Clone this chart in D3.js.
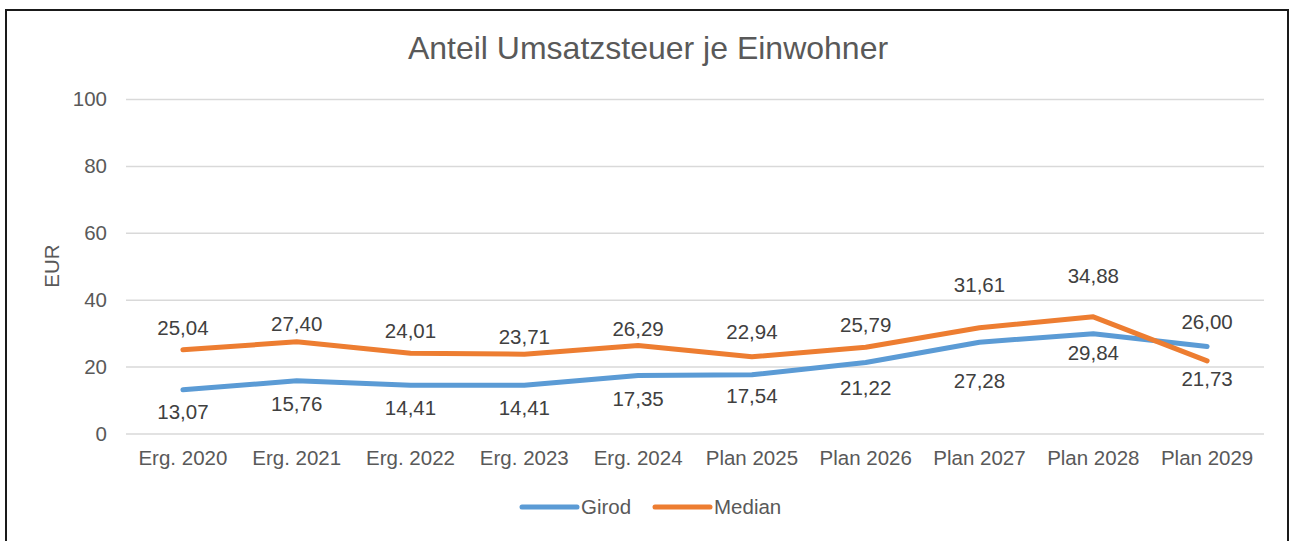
<!DOCTYPE html>
<html>
<head>
<meta charset="utf-8">
<script src="https://cdn.jsdelivr.net/npm/d3@7"></script>
<style>
  body { margin: 0; background: #fff; }
  svg { display: block; font-family: "Liberation Sans", Arial, sans-serif; }
</style>
</head>
<body>
<svg id="chart"></svg>
<script>
// data
const categories = ["Erg. 2020", "Erg. 2021", "Erg. 2022", "Erg. 2023", "Erg. 2024",
  "Plan 2025", "Plan 2026", "Plan 2027", "Plan 2028", "Plan 2029"];
const girod = [13.07, 15.76, 14.41, 14.41, 17.35, 17.54, 21.22, 27.28, 29.84, 26.00];
const median = [25.04, 27.40, 24.01, 23.71, 26.29, 22.94, 25.79, 31.61, 34.88, 21.73];
const yTicks = [0, 20, 40, 60, 80, 100];

// label placement (pixel offset of label centre from point)
const girodLabelDy = [22, 23, 23, 23, 23, 21, 25, 39, 19, -25];
const medianLabelDy = [-22, -18, -22, -17, -17, -25, -22, -43, -41, 18];

const series = [
  { name: "Girod", values: girod, color: "#5B9BD5", dy: girodLabelDy },
  { name: "Median", values: median, color: "#ED7D31", dy: medianLabelDy }
];

const W = 1292, H = 541;
const plot = { left: 126, right: 1264, top: 99, bottom: 433.5 };

const svg = d3.select("#chart").attr("width", W).attr("height", H);

// outer frame
svg.append("rect")
  .attr("x", 6).attr("y", 10)
  .attr("width", 1282).attr("height", 560)
  .attr("fill", "#fff")
  .attr("stroke", "#1a1a1a")
  .attr("stroke-width", 2);

const x = d3.scaleBand().domain(categories).range([plot.left, plot.right]);
const y = d3.scaleLinear().domain([0, 100]).range([plot.bottom, plot.top]);
const cx = d => x(d) + x.bandwidth() / 2;

// title
svg.append("text")
  .attr("x", 648).attr("y", 59)
  .attr("text-anchor", "middle")
  .attr("font-size", 32)
  .attr("fill", "#595959")
  .text("Anteil Umsatzsteuer je Einwohner");

// y axis + gridlines
const yAxisG = svg.append("g")
  .attr("transform", `translate(${plot.left},0)`)
  .call(d3.axisLeft(y).tickValues(yTicks).tickSize(-(plot.right - plot.left)).tickPadding(19));
yAxisG.select(".domain").remove();
yAxisG.selectAll(".tick line").attr("stroke", "#d9d9d9").attr("stroke-width", 1.5);
yAxisG.selectAll(".tick text")
  .attr("font-size", 20.5).attr("fill", "#595959")
  .attr("font-family", "Liberation Sans, Arial, sans-serif");

// x axis labels
const xAxisG = svg.append("g")
  .attr("transform", `translate(0,${plot.bottom})`)
  .call(d3.axisBottom(x).tickSize(0).tickPadding(17));
xAxisG.select(".domain").remove();
xAxisG.selectAll(".tick text")
  .attr("font-size", 20.5).attr("fill", "#595959")
  .attr("font-family", "Liberation Sans, Arial, sans-serif");

// y axis title
svg.append("text")
  .attr("transform", "translate(59,266) rotate(-90)")
  .attr("text-anchor", "middle")
  .attr("font-size", 20.5)
  .attr("fill", "#595959")
  .text("EUR");

// lines
const line = d3.line()
  .x((d, i) => cx(categories[i]))
  .y(d => y(d));

series.forEach(s => {
  svg.append("path")
    .datum(s.values)
    .attr("d", line)
    .attr("fill", "none")
    .attr("stroke", s.color)
    .attr("stroke-width", 5)
    .attr("stroke-linecap", "round")
    .attr("stroke-linejoin", "round");
});

// data labels
const fmt = v => v.toFixed(2).replace(".", ",");
series.forEach(s => {
  svg.append("g").selectAll("text")
    .data(s.values)
    .join("text")
      .attr("x", (d, i) => cx(categories[i]))
      .attr("y", (d, i) => y(d) + s.dy[i])
      .attr("dy", "0.35em")
      .attr("text-anchor", "middle")
      .attr("font-size", 20.5)
      .attr("fill", "#404040")
      .text(d => fmt(d));
});

// legend
const legend = svg.append("g").attr("transform", "translate(0,507)");
const legendX = [522, 655];
series.forEach((s, i) => {
  const g = legend.append("g").attr("transform", `translate(${legendX[i]},0)`);
  g.append("line")
    .attr("x1", 0).attr("x2", 55)
    .attr("stroke", s.color)
    .attr("stroke-width", 5)
    .attr("stroke-linecap", "round");
  g.append("text")
    .attr("x", 59).attr("dy", "0.35em")
    .attr("font-size", 20.5)
    .attr("fill", "#595959")
    .text(s.name);
});
</script>
</body>
</html>
